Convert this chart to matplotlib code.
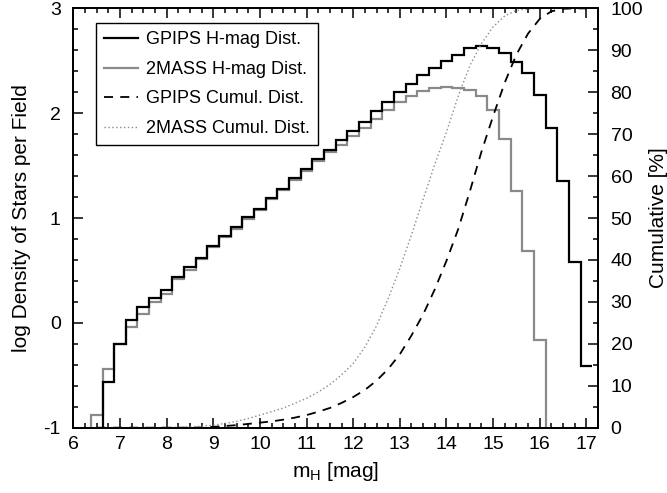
import numpy as np
import matplotlib.pyplot as plt
from matplotlib.ticker import MultipleLocator

plt.rcParams['font.family'] = ['Liberation Sans', 'DejaVu Sans']
plt.rcParams['font.size'] = 14
plt.rcParams['axes.unicode_minus'] = False

# H-band magnitude bins (0.25 mag wide), log10 of stars per field
bin_edges = np.arange(6.125, 17.126, 0.25)
gpips_logn = [-np.inf, -np.inf, -0.56, -0.20, 0.03, 0.15, 0.235, 0.31, 0.44, 0.53,
              0.62, 0.73, 0.83, 0.91, 1.01, 1.09, 1.19, 1.28, 1.38, 1.47,
              1.56, 1.65, 1.74, 1.83, 1.92, 2.02, 2.11, 2.20, 2.28, 2.36,
              2.43, 2.50, 2.56, 2.62, 2.64, 2.62, 2.57, 2.49, 2.38, 2.17,
              1.86, 1.35, 0.58, -0.41]
tmass_logn = [-np.inf, -0.88, -0.44, -0.20, -0.035, 0.08, 0.20, 0.28, 0.42, 0.50,
              0.61, 0.72, 0.82, 0.90, 0.99, 1.08, 1.18, 1.27, 1.36, 1.45,
              1.54, 1.63, 1.70, 1.78, 1.86, 1.94, 2.03, 2.11, 2.16, 2.21,
              2.24, 2.25, 2.24, 2.22, 2.16, 2.03, 1.75, 1.26, 0.69, -0.16,
              -np.inf, -np.inf, -np.inf, -np.inf]

# cumulative distributions [%] at bin centres
cum_mag = np.arange(6.5, 17.01, 0.25)
gpips_cum = [0, 0, 0, 0, 0, 0, 0, 0, 0,
             0.05, 0.2, 0.4, 0.6, 0.9, 1.2, 1.5, 1.9, 2.4, 3.0,
             3.8, 4.7, 5.9, 7.3, 9.0, 11.2, 14.0, 17.5, 22.0, 27.0,
             33.0, 39.8, 47.3, 56.3, 65.8, 74.3, 82.3, 89.0, 94.0, 97.5,
             99.3, 99.9, 100, 100]
tmass_cum = [0, 0, 0, 0, 0, 0,
             0.05, 0.1, 0.2, 0.35, 0.6, 1.0, 1.5, 2.2, 3.0, 3.8,
             4.7, 5.8, 7.0, 8.5, 10.3, 12.6, 15.3, 19.2, 24.3, 30.8,
             38.0, 46.0, 54.5, 62.8, 70.5, 79.0, 86.3, 91.6, 95.6, 98.2,
             99.5, 99.9, 100, 100, 100, 100, 100]

ylo, yhi = -1, 3

def floor(v):
    # empty bins (log 0) are pushed below the plot so the step drops off the axis
    v = np.asarray(v, dtype=float)
    return np.where(np.isfinite(v), v, ylo - 0.5)

fig = plt.figure(figsize=(6.67, 4.93), dpi=100)
ax = fig.add_axes([0.110, 0.1325, 0.7866, 0.8505])
ax2 = ax.twinx()

h1 = ax.stairs(floor(tmass_logn), bin_edges, baseline=None, color='#8a8a8a', lw=1.6,
               label='2MASS H-mag Dist.')
h0 = ax.stairs(floor(gpips_logn), bin_edges, baseline=None, color='black', lw=1.6,
               label='GPIPS H-mag Dist.')
c0, = ax2.plot(cum_mag, gpips_cum, color='black', lw=1.3, ls=(0, (5, 4)),
               label='GPIPS Cumul. Dist.')
c1, = ax2.plot(cum_mag, tmass_cum, color='#8a8a8a', lw=1.0, ls=(0, (1, 1.8)),
               label='2MASS Cumul. Dist.')

ax.set_xlim(6, 17.25)
ax.set_ylim(ylo, yhi)
ax2.set_ylim(0, 100)

ax.xaxis.set_major_locator(MultipleLocator(1))
ax.xaxis.set_minor_locator(MultipleLocator(0.25))
ax.yaxis.set_major_locator(MultipleLocator(1))
ax.yaxis.set_minor_locator(MultipleLocator(0.2))
ax2.yaxis.set_major_locator(MultipleLocator(10))
ax2.yaxis.set_minor_locator(MultipleLocator(5))

ax.tick_params(which='both', direction='in', top=True, right=False, width=1.1,
               labelsize=14)
ax.tick_params(which='major', length=7.5)
ax.tick_params(which='minor', length=3.5)
ax.tick_params(axis='x', pad=6)
ax.tick_params(axis='y', pad=9)
ax2.tick_params(which='both', direction='in', width=1.1, labelsize=14, pad=9)
ax2.tick_params(which='major', length=7.5)
ax2.tick_params(which='minor', length=3.5)

for a in (ax, ax2):
    for s in a.spines.values():
        s.set_linewidth(1.3)

ax.set_xlabel('m$_\\mathregular{H}$ [mag]', fontsize=15, labelpad=5)
ax.set_ylabel('log Density of Stars per Field', fontsize=15, labelpad=9)
ax2.set_ylabel('Cumulative [%]', fontsize=15, labelpad=4)

leg = ax.legend([h0, h1, c0, c1],
                [h0.get_label(), h1.get_label(), c0.get_label(), c1.get_label()],
                loc='upper left', bbox_to_anchor=(0.043, 0.965), borderaxespad=0,
                fontsize=13, frameon=True, fancybox=False, edgecolor='black',
                framealpha=1, handlelength=1.9, labelspacing=0.7, borderpad=0.45,
                handletextpad=0.45)
leg.get_frame().set_linewidth(1.0)

fig.savefig('out.png', dpi=100)
